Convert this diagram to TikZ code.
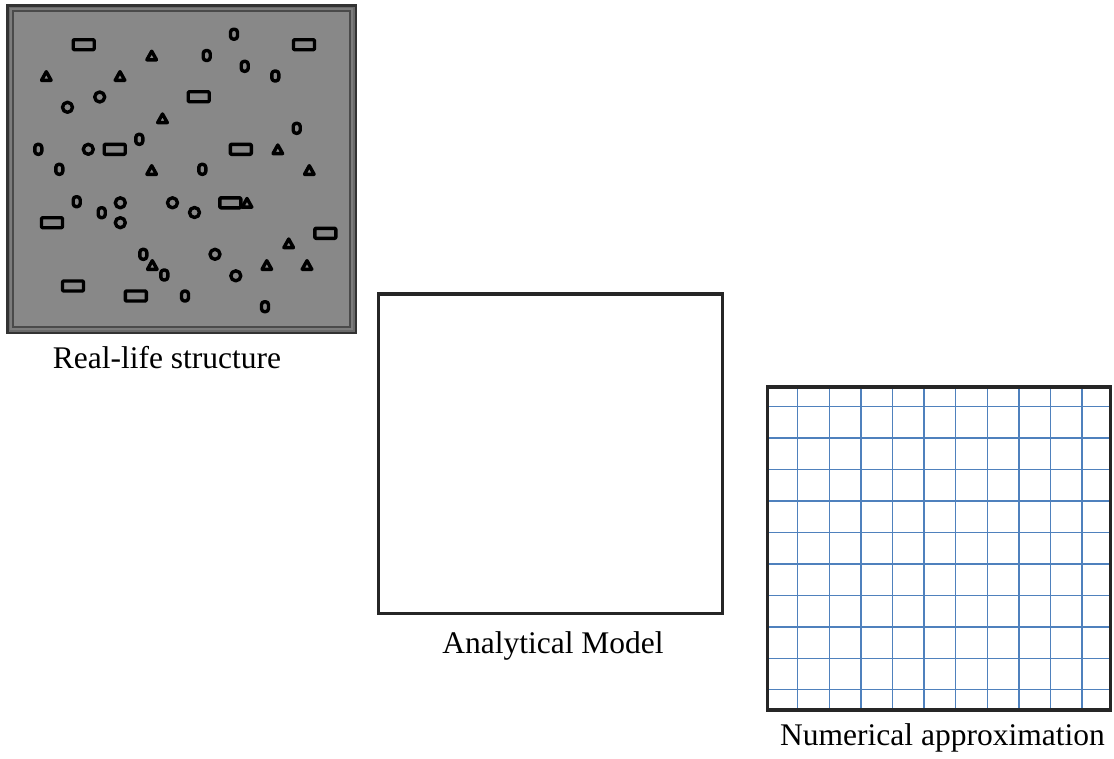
\documentclass[tikz,border=0pt]{standalone}
\usepackage{fontspec}
\setmainfont{Liberation Serif}
\definecolor{framedark}{HTML}{333333}
\definecolor{framemid}{HTML}{6A6A6A}
\definecolor{frameline}{HTML}{4A4A4A}
\definecolor{framelight}{HTML}{7C7C7C}
\definecolor{fillgray}{HTML}{888888}
\definecolor{gridblue}{HTML}{4F81BD}
\definecolor{boxline}{HTML}{262626}
\tikzset{
  shp/.style={draw=black, line width=3.4pt, line join=round},
  panel/.style={draw=boxline, line width=3.5pt, inner sep=0pt, outer sep=0pt},
  lbl/.style={anchor=base, inner sep=0pt, font=\fontsize{31.5}{36}\selectfont},
  gridline/.style={draw=gridblue, line width=1.4pt}
}
\begin{document}
\begin{tikzpicture}[x=1pt,y=-1pt]
\useasboundingbox (0,0) rectangle (1114,758);
% ---- Real-life structure panel
\fill[framedark] (6,4) rectangle (357,334);
\fill[framemid] (8.5,6.5) rectangle (354.5,331.5);
\fill[framelight] (10,8) rectangle (353,330);
\fill[frameline] (12,10) rectangle (351,328);
\fill[fillgray] (14,12) rectangle (349,326);
\node (real) [inner sep=0pt, minimum width=351pt, minimum height=330pt] at (181.5,169) {};
\foreach \p in {(83.7,44.7),(304,44.7),(198.7,96.7),(114.7,149.3),(240.8,149.3),(230.3,202.8),(52,222.7),(325.3,233.3),(73,286),(135.8,296)}
  \draw[shp, rounded corners=1pt] \p ++(-10.5,-5) rectangle ++(21,10);
\foreach \p in {(206.7,55.5),(234,34.2),(244.7,66.3),(275.3,76),(296.7,128.3),(139.3,139.3),(38.3,149.3),(59.3,169.3),(202.3,169.3),(76.7,201.7),(101.7,212.7),(143.3,254.3),(164.3,275),(185,296),(265,306.7)}
  \draw[shp, rounded corners=3pt] \p ++(-3.5,-5) rectangle ++(7,10);
\foreach \p in {(99.7,97),(67.5,107.3),(88.3,149.3),(120.3,202.8),(172.5,202.8),(194.5,212.5),(120.3,222.7),(215,254.3),(235.8,275.8)}
  \draw[shp] \p circle[radius=5];
\foreach \p in {(151.7,55.5),(46.3,76),(120,76),(162.5,118.3),(277.8,149.3),(151.7,170),(309.3,170),(247,202.8),(288.7,243.3),(152.3,265),(266.8,265),(307,265)}
  \draw[shp] \p ++(0,-4.3) -- ++(4.8,8.6) -- ++(-9.6,0) -- cycle;
\node (reallbl) [lbl] at (167,368) {Real-life structure};
% ---- Analytical model panel
\node (model) [panel, minimum width=344pt, minimum height=319.5pt] at (550.5,453.9) {};
\node (modellbl) [lbl] at (553,653) {Analytical Model};
% ---- Numerical approximation panel
\foreach \k in {0,...,9} {
  \draw[gridline] (797.7+31.6*\k,386.5) -- (797.7+31.6*\k,709.5);
  \draw[gridline] (767.5,406.7+31.45*\k) -- (1110.5,406.7+31.45*\k);
}
\node (mesh) [panel, minimum width=343pt, minimum height=323pt] at (939,386+162.5) {};
\node (meshlbl) [lbl] at (942.5,745) {Numerical approximation};
\end{tikzpicture}
\end{document}
